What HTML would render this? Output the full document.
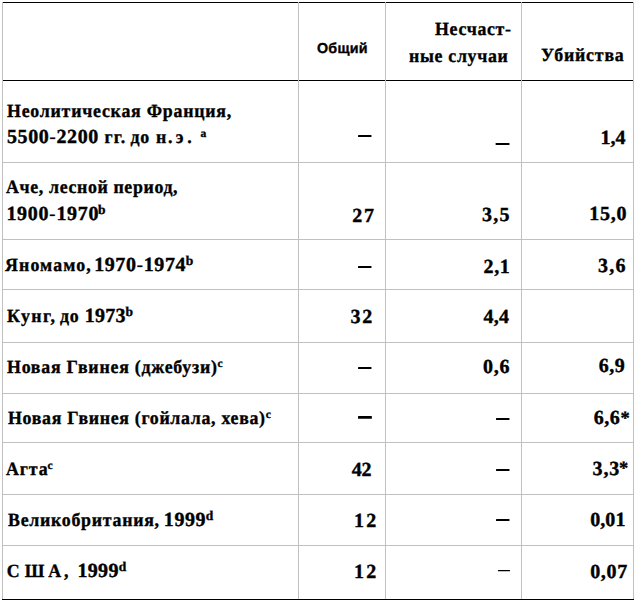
<!DOCTYPE html><html><head><meta charset="utf-8"><title>table</title><style>html,body{margin:0;padding:0;background:#fff;width:638px;height:602px;overflow:hidden}svg{display:block}text{font-weight:bold;fill:#000;stroke:#000;stroke-width:0.35px;text-rendering:geometricPrecision}.s{font-family:"Liberation Serif",serif}.a{font-family:"Liberation Sans",sans-serif}.dg{stroke-width:0.4px}.hy{stroke-width:0}</style></head><body>
<svg width="638" height="602" viewBox="0 0 638 602">
<rect x="2" y="2" width="632" height="1" fill="#000"/>
<rect x="2" y="80" width="632" height="1" fill="#000"/>
<rect x="2" y="162" width="632" height="1" fill="#c0c0c0"/>
<rect x="2" y="239" width="632" height="1" fill="#c0c0c0"/>
<rect x="2" y="289" width="632" height="1" fill="#c0c0c0"/>
<rect x="2" y="342" width="632" height="1" fill="#c0c0c0"/>
<rect x="2" y="393" width="632" height="1" fill="#c0c0c0"/>
<rect x="2" y="442" width="632" height="1" fill="#c0c0c0"/>
<rect x="2" y="494" width="632" height="1" fill="#c0c0c0"/>
<rect x="2" y="545" width="632" height="1" fill="#c0c0c0"/>
<rect x="2" y="599" width="632" height="1" fill="#000"/>
<rect x="2" y="2" width="1" height="597" fill="#c0c0c0"/>
<rect x="298" y="2" width="1" height="597" fill="#c0c0c0"/>
<rect x="385" y="2" width="1" height="597" fill="#c0c0c0"/>
<rect x="521" y="2" width="1" height="597" fill="#c0c0c0"/>
<rect x="633" y="2" width="1" height="597" fill="#c0c0c0"/>
<rect x="358.00" y="135.00" width="13.50" height="2.00" rx="0.6" fill="#000"/>
<rect x="495.60" y="143.00" width="13.90" height="2.00" rx="0.6" fill="#000"/>
<rect x="358.00" y="266.00" width="13.50" height="2.00" rx="0.6" fill="#000"/>
<rect x="358.00" y="367.00" width="13.50" height="2.00" rx="0.6" fill="#000"/>
<rect x="358.00" y="416.00" width="13.90" height="2.80" rx="0.6" fill="#000"/>
<rect x="496.00" y="418.00" width="13.50" height="2.00" rx="0.6" fill="#000"/>
<rect x="496.00" y="469.00" width="13.50" height="2.00" rx="0.6" fill="#000"/>
<rect x="496.00" y="519.00" width="13.50" height="2.00" rx="0.6" fill="#000"/>
<rect x="497.90" y="570.00" width="12.20" height="1.30" rx="0.6" fill="#000"/>
<text class="a" x="317.00" y="53" font-size="14.3" textLength="50.59" lengthAdjust="spacing">Общий</text>
<text class="s" transform="translate(435.00,35) scale(0.96,1)" font-size="18.6" textLength="79.19" lengthAdjust="spacing">Несчаст-</text>
<text class="s" transform="translate(409.00,62) scale(0.96,1)" font-size="18.6" textLength="102.88" lengthAdjust="spacing">ные случаи</text>
<text class="s" transform="translate(541.00,61) scale(0.96,1)" font-size="18.6" textLength="86.22" lengthAdjust="spacing">Убийства</text>
<text class="s" transform="translate(7.00,117) scale(0.96,1)" font-size="18.6" textLength="233.54" lengthAdjust="spacing">Неолитическая Франция,</text>
<text class="s dg" x="7.00" y="143" font-size="20" textLength="91.27" lengthAdjust="spacing">5500<tspan class="hy">-</tspan>2200</text>
<text class="s" transform="translate(104.60,143) scale(0.96,1)" font-size="18.6" textLength="21.52" lengthAdjust="spacing">гг.</text>
<text class="s" transform="translate(130.60,143) scale(0.96,1)" font-size="18.6" textLength="19.33" lengthAdjust="spacing">до</text>
<text class="s" transform="translate(156.00,143) scale(0.96,1)" font-size="18.6">н</text>
<text class="s" transform="translate(168.00,143) scale(0.96,1)" font-size="18.6">.</text>
<text class="s" transform="translate(175.80,143) scale(0.96,1)" font-size="18.6">э</text>
<text class="s" transform="translate(187.20,143) scale(0.96,1)" font-size="18.6">.</text>
<text class="s" x="200.60" y="137" font-size="11.5">a</text>
<text class="s dg" x="600.60" y="144" font-size="20" textLength="24.80" lengthAdjust="spacing">1,4</text>
<text class="s" transform="translate(6.00,193) scale(0.96,1)" font-size="18.6" textLength="178.72" lengthAdjust="spacing">Аче, лесной период,</text>
<text class="s dg" x="6.40" y="220" font-size="20" textLength="92.07" lengthAdjust="spacing">1900<tspan class="hy">-</tspan>1970</text>
<text class="s" x="98.00" y="214" font-size="13.5">b</text>
<text class="s dg" x="352.20" y="222" font-size="20" textLength="21.80" lengthAdjust="spacing">27</text>
<text class="s dg" x="482.00" y="221" font-size="20" textLength="27.60" lengthAdjust="spacing">3,5</text>
<text class="s dg" x="589.20" y="220" font-size="20" textLength="37.20" lengthAdjust="spacing">15,0</text>
<text class="s" transform="translate(5.00,271) scale(0.96,1)" font-size="18.6" textLength="89.42" lengthAdjust="spacing">Яномамо,</text>
<text class="s dg" x="94.20" y="271" font-size="20" textLength="91.27" lengthAdjust="spacing">1970<tspan class="hy">-</tspan>1974</text>
<text class="s" x="185.80" y="265" font-size="13.5">b</text>
<text class="s dg" x="483.60" y="273" font-size="20" textLength="26.20" lengthAdjust="spacing">2,1</text>
<text class="s dg" x="598.00" y="272" font-size="20" textLength="27.40" lengthAdjust="spacing">3,6</text>
<text class="s" transform="translate(7.00,322) scale(0.96,1)" font-size="18.6" textLength="49.86" lengthAdjust="spacing">Кунг,</text>
<text class="s" transform="translate(60.00,322) scale(0.96,1)" font-size="18.6" textLength="19.33" lengthAdjust="spacing">до</text>
<text class="s dg" x="84.80" y="322" font-size="20" textLength="40.80" lengthAdjust="spacing">1973</text>
<text class="s" x="125.40" y="316" font-size="13.5">b</text>
<text class="s dg" x="350.40" y="323" font-size="20" textLength="21.80" lengthAdjust="spacing">32</text>
<text class="s dg" x="483.40" y="323" font-size="20" textLength="25.60" lengthAdjust="spacing">4,4</text>
<text class="s" transform="translate(7.00,373) scale(0.96,1)" font-size="18.6" textLength="218.71" lengthAdjust="spacing">Новая Гвинея (джебузи)</text>
<text class="s" x="217.60" y="367" font-size="11.5">c</text>
<text class="s dg" x="483.00" y="373" font-size="20" textLength="26.60" lengthAdjust="spacing">0,6</text>
<text class="s dg" x="598.80" y="372" font-size="20" textLength="26.00" lengthAdjust="spacing">6,9</text>
<text class="s" transform="translate(8.00,424) scale(0.96,1)" font-size="18.6" textLength="267.78" lengthAdjust="spacing">Новая Гвинея (гойлала, хева)</text>
<text class="s" x="265.80" y="418" font-size="11.5">c</text>
<text class="s dg" x="593.80" y="424" font-size="20" textLength="26.00" lengthAdjust="spacing">6,6</text>
<text class="s" x="620.60" y="423.5" font-size="18.5">*</text>
<text class="s" transform="translate(6.00,475) scale(0.96,1)" font-size="18.6" textLength="43.45" lengthAdjust="spacing">Агта</text>
<text class="s" x="47.40" y="469" font-size="11.5">c</text>
<text class="s dg" x="351.80" y="476" font-size="20" textLength="19.80" lengthAdjust="spacing">42</text>
<text class="s dg" x="592.60" y="475" font-size="20" textLength="26.60" lengthAdjust="spacing">3,3</text>
<text class="s" x="619.00" y="474" font-size="18.5">*</text>
<text class="s" transform="translate(8.00,526) scale(0.96,1)" font-size="18.6" textLength="157.34" lengthAdjust="spacing">Великобритания,</text>
<text class="s dg" x="163.80" y="526" font-size="20" textLength="41.80" lengthAdjust="spacing">1999</text>
<text class="s" x="205.80" y="520" font-size="13.5">d</text>
<text class="s dg" x="354.00" y="527" font-size="20" textLength="22.20" lengthAdjust="spacing">12</text>
<text class="s dg" x="590.20" y="526" font-size="20" textLength="35.20" lengthAdjust="spacing">0,01</text>
<text class="s" transform="translate(6.80,577) scale(0.96,1)" font-size="18.6">С</text>
<text class="s" transform="translate(24.80,577) scale(0.96,1)" font-size="18.6">Ш</text>
<text class="s" transform="translate(48.20,577) scale(0.96,1)" font-size="18.6">А</text>
<text class="s" transform="translate(64.00,577) scale(0.96,1)" font-size="18.6">,</text>
<text class="s dg" x="77.40" y="577" font-size="20" textLength="41.00" lengthAdjust="spacing">1999</text>
<text class="s" x="118.80" y="571" font-size="13.5">d</text>
<text class="s dg" x="354.00" y="578" font-size="20" textLength="22.20" lengthAdjust="spacing">12</text>
<text class="s dg" x="590.20" y="578" font-size="20" textLength="37.00" lengthAdjust="spacing">0,07</text>
</svg></body></html>
